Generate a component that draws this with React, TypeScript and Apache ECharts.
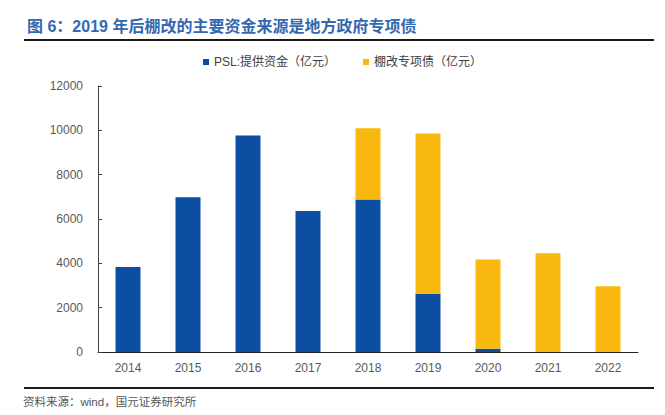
import React, { useEffect, useRef } from "react";
import * as echarts from "echarts";

const categories = ["2014", "2015", "2016", "2017", "2018", "2019", "2020", "2021", "2022"];
const pslValues = [3840, 6980, 9770, 6360, 6880, 2620, 150, null, null];
const bondValues = [null, null, null, null, 3210, 7240, 4020, 4460, 2970];
const yTicks = { min: 0, max: 12000, interval: 2000 };

const titleText = "图 6：2019 年后棚改的主要资金来源是地方政府专项债";
const sourceText = "资料来源：wind，国元证券研究所";
const seriesNames = ["PSL:提供资金（亿元）", "棚改专项债（亿元）"];

const FONT = "'Liberation Sans', Arial, 'Noto Sans CJK SC', sans-serif";

export default function App() {
  const ref = useRef<HTMLDivElement>(null);
  useEffect(() => {
    if (!ref.current) return;
    const chart = echarts.init(ref.current, undefined, { renderer: "svg" });
    chart.setOption({
      animation: false,
      backgroundColor: "#ffffff",
      textStyle: { fontFamily: FONT },
      grid: { left: 98, right: 27, top: 86, bottom: 63, containLabel: false },
      legend: {
        left: 203,
        top: 56,
        padding: 0,
        itemWidth: 6,
        itemHeight: 6,
        itemGap: 27,
        icon: "rect",
        textStyle: { fontSize: 12, color: "#404040", fontFamily: FONT },
        data: seriesNames,
      },
      xAxis: {
        type: "category",
        data: categories,
        axisLine: { lineStyle: { color: "#262626", width: 1 } },
        axisTick: { inside: true, length: 4, lineStyle: { color: "#262626" } },
        axisLabel: { color: "#595959", fontSize: 12, margin: 10, fontFamily: FONT },
      },
      yAxis: {
        type: "value",
        min: yTicks.min,
        max: yTicks.max,
        interval: yTicks.interval,
        splitLine: { show: false },
        axisLine: { show: true, lineStyle: { color: "#404040", width: 1 } },
        axisTick: { show: true, inside: true, length: 4, lineStyle: { color: "#404040" } },
        axisLabel: {
          color: "#595959",
          fontSize: 12,
          margin: 15,
          fontFamily: FONT,
          formatter: (v: number) => String(v),
        },
      },
      series: [
        {
          name: seriesNames[0],
          type: "bar",
          stack: "total",
          barWidth: 25,
          data: pslValues,
          itemStyle: { color: "#0C4EA2" },
        },
        {
          name: seriesNames[1],
          type: "bar",
          stack: "total",
          barWidth: 25,
          data: bondValues,
          itemStyle: { color: "#F8B80F" },
        },
      ],
      graphic: [
        {
          type: "text",
          left: 27,
          top: 18,
          style: {
            text: titleText,
            fontSize: 16,
            fontWeight: "bold",
            fill: "#3469B0",
            fontFamily: FONT,
          },
        },
        {
          type: "line",
          shape: { x1: 24, y1: 40, x2: 654, y2: 40 },
          style: { stroke: "#1a1a1a", lineWidth: 2 },
        },
        {
          type: "line",
          shape: { x1: 24, y1: 388, x2: 654, y2: 388 },
          style: { stroke: "#1a1a1a", lineWidth: 2 },
        },
        {
          type: "text",
          left: 23,
          top: 396,
          style: {
            text: sourceText,
            fontSize: 11.5,
            fill: "#555555",
            fontFamily: FONT,
          },
        },
      ],
    });
    return () => chart.dispose();
  }, []);
  return (
    <div
      ref={ref}
      style={{ position: "fixed", left: 0, top: 0, width: 665, height: 415, background: "#fff" }}
    />
  );
}
